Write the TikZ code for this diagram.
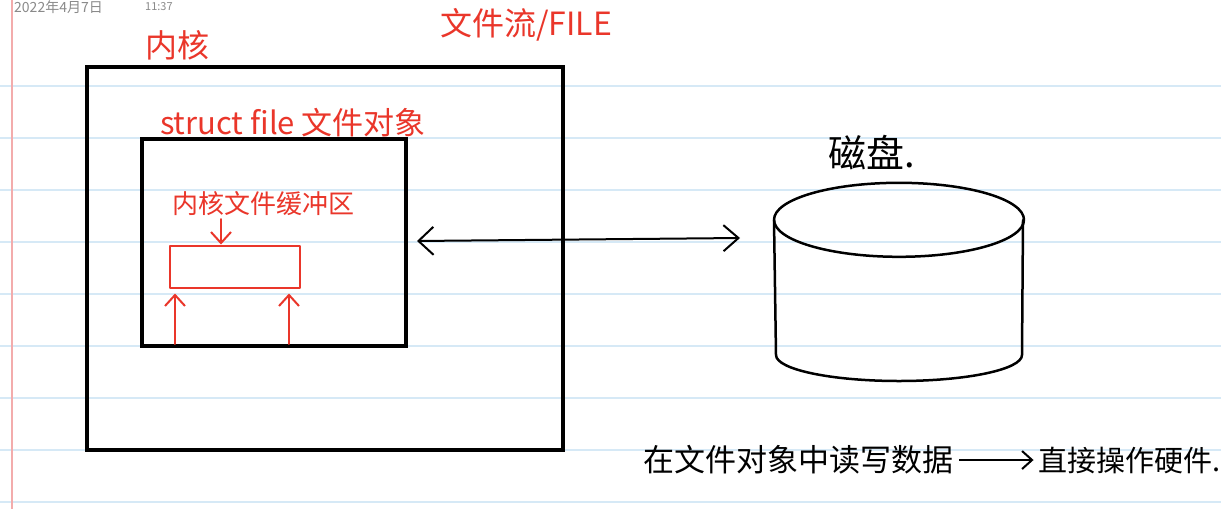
\documentclass[tikz,border=0pt]{standalone}
\usepackage{fontspec}
\setmainfont{Noto Sans CJK SC}
\newfontfamily\cjk{Noto Sans CJK SC}
\usepackage{tikz}
\usetikzlibrary{arrows.meta, positioning, calc}
\usepackage{xcolor}

\definecolor{penred}{RGB}{234,54,42}
\definecolor{ruleblue}{RGB}{214,233,246}
\definecolor{marginred}{RGB}{243,172,172}
\definecolor{stampgray}{RGB}{138,138,138}

\begin{document}
\begin{tikzpicture}[x=1pt, y=-1pt,
    kbox/.style = {rectangle, draw=black, line width=4pt, inner sep=0pt},
    redlabel/.style = {text=penred, inner sep=0pt, font=\cjk\fontsize{#1}{#1}\selectfont},
    inklabel/.style = {text=black, inner sep=0pt, font=\cjk\fontsize{#1}{#1}\selectfont},
    redline/.style = {draw=penred, line width=2pt, line cap=round, line join=round},
    redarrow/.style = {redline, -{Straight Barb[length=11pt, width=20pt, line width=2pt]}},
    inkline/.style = {draw=black, line width=2.5pt, line cap=round, line join=round},
    ioarrow/.style = {draw=black, line width=2pt, line cap=round, {Straight Barb[length=15pt, width=28pt, line width=2pt]}-{Straight Barb[length=15pt, width=26pt, line width=2pt]}},
    ruleline/.style = {draw=ruleblue, line width=1.2pt}
]

% Page
\useasboundingbox (0,0) rectangle (1221,509);
\clip (0,0) rectangle (1221,509);
\fill [white] (0,0) rectangle (1221,509);
\foreach \y in {86,138,...,502}
    \draw [ruleline] (0,\y) -- (1221,\y);
\draw [draw=marginred, line width=1.5pt] (12,0) -- (12,509);

% Time stamp
\node (date) [anchor=base west, inner sep=0pt, text=stampgray, font=\cjk\fontsize{14}{14}\selectfont] at (14,12) {2022年4月7日};
\node (time) [anchor=base west, inner sep=0pt, text=stampgray, font=\cjk\fontsize{11}{11}\selectfont] at (145,10) {11:37};

% Kernel and file object
\node (kernel) [kbox, minimum width=476pt, minimum height=383pt] at (325,258.5) {};
\node (fileobj) [kbox, line width=3.5pt, minimum width=264pt, minimum height=207pt] at (274,242.5) {};
\node (buffer) [rectangle, redline, inner sep=0pt, minimum width=130pt, minimum height=42pt] at (235,266.5) {};

\node (kernellbl) [redlabel=32] at (177,45) {内核};
\node (streamlbl) [redlabel=32] at (526,25) {文件流/FILE};
\node (structlbl) [redlabel=31] at (293,123) {struct file 文件对象};
\node (bufferlbl) [redlabel=26] at (263,204) {内核文件缓冲区};

% Buffer arrows
\coordinate (bufin) at (221,219);
\draw [redarrow] (bufin) -- (bufin |- buffer.north);
\coordinate (feedL) at (175,344);
\coordinate (feedR) at (289,344);
\draw [redarrow, shorten >=5pt] (feedL) -- (feedL |- buffer.south);
\draw [redarrow, shorten >=5pt] (feedR) -- (feedR |- buffer.south);

% Disk
\node (disk) [inner sep=0pt, minimum width=250pt, minimum height=198pt] at (899,282) {};
\draw [inkline] (disk.north) ++(0,37) ellipse [x radius=125, y radius=37];
\draw [inkline] (774,220) -- (776,355) arc [start angle=180, end angle=0, x radius=123, y radius=26] -- (1023,220);
\node (disklbl) [inklabel=38] at (872,153) {磁盘.};

% Read / write between file object and disk
\coordinate (ioL) at (417,241);
\coordinate (ioR) at (740,238);
\draw [ioarrow] (ioL) -- (ioR);

% Note
\node (readwrite) [inklabel=31, anchor=west] at (643,460) {在文件对象中读写数据};
\node (hardware) [inklabel=29, anchor=east] at (1221,460) {直接操作硬件.};
\draw [line width=2pt, -{Straight Barb[length=10pt, width=18pt, line width=2pt]}, shorten <=6pt, shorten >=5pt] (readwrite.east) -- (hardware.west);

\end{tikzpicture}
\end{document}
